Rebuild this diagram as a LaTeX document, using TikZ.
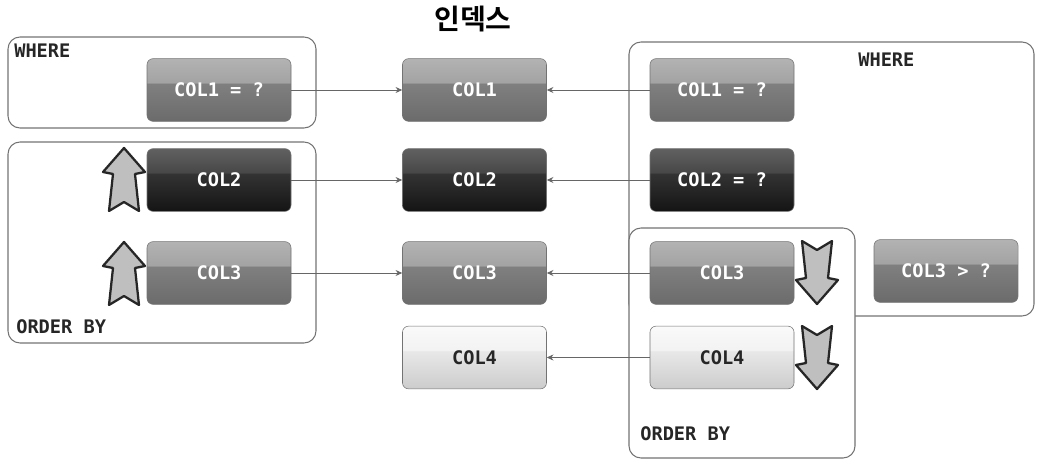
\documentclass[tikz,border=0pt]{standalone}
\usepackage{fontspec}
\setmonofont{DejaVu Sans Mono}
\newfontfamily\krfont{Noto Sans CJK KR}[BoldFont={* Bold}]
\usetikzlibrary{arrows.meta}

% glossy fills: node bottom = 25bp, node top = 75bp
\pgfdeclareverticalshading{glossmid}{100bp}{color(0bp)=(black!58); color(25bp)=(black!58); color(55bp)=(black!50); color(56bp)=(black!36); color(75bp)=(black!30); color(100bp)=(black!30)}
\pgfdeclareverticalshading{glossdark}{100bp}{color(0bp)=(black!92); color(25bp)=(black!92); color(55bp)=(black!80); color(56bp)=(black!72); color(75bp)=(black!62); color(100bp)=(black!62)}
\pgfdeclareverticalshading{glosslight}{100bp}{color(0bp)=(black!20); color(25bp)=(black!20); color(55bp)=(black!9); color(56bp)=(black!5); color(75bp)=(black!2); color(100bp)=(black!2)}

\tikzset{
  col/.style={draw=black!55, rounded corners=4.5pt, minimum width=108pt, minimum height=47pt,
    inner sep=0pt, font=\ttfamily\bfseries\fontsize{14}{16}\selectfont},
  colmid/.style={col, shading=glossmid, text=white},
  coldark/.style={col, shading=glossdark, text=white},
  collight/.style={col, shading=glosslight, text=black!85},
  grp/.style={draw=black!55, line width=0.8pt, rounded corners=9pt},
  lbl/.style={inner sep=0pt, anchor=base west, font=\ttfamily\bfseries\fontsize{14}{16}\selectfont, text=black!85},
  conn/.style={draw=black!60, line width=0.6pt, -{Stealth[length=5pt,width=4.5pt]}},
  fatarr/.pic={
    \draw[fill=black!25, draw=black!85, line width=1.7pt, line join=round]
      (0,-32) -- (21,-8) -- (11,-6) -- (15,31) -- (0,22) -- (-15,31) -- (-11,-6) -- (-21,-8) -- cycle;
  }
}

\begin{document}
\begin{tikzpicture}[x=0.75pt,y=0.75pt,yscale=-1,xscale=1]
\useasboundingbox (0,0) rectangle (1044,466);

%Shape: group frames
\draw[grp] (8,37) rectangle (316,128);
\draw[grp] (8,142) rectangle (316,343);
\draw[grp] (629,42) rectangle (1034,316);
\draw[grp, fill=white] (629,228) rectangle (855,458);

% Text Node
\node[font=\krfont\bfseries\fontsize{21}{24}\selectfont] (title) at (473,19) {인덱스};
\node[lbl] (lwhere) at (14,58) {WHERE};
\node[lbl] (lorder) at (16,333) {ORDER BY};
\node[lbl] (rwhere) at (858,67) {WHERE};
\node[lbl] (rorder) at (640,440) {ORDER BY};

% query columns, left
\node[colmid] (l1) at (219,90) {COL1 = ?};
\node[coldark] (l2) at (219,180) {COL2};
\node[colmid] (l3) at (219,273) {COL3};

% index columns
\node[colmid] (c1) at (474.5,90) {COL1};
\node[coldark] (c2) at (474.5,180) {COL2};
\node[colmid] (c3) at (474.5,273) {COL3};
\node[collight] (c4) at (474.5,357.5) {COL4};

% query columns, right
\node[colmid] (r1) at (722,90) {COL1 = ?};
\node[coldark] (r2) at (722,180) {COL2 = ?};
\node[colmid] (r3) at (722,273) {COL3};
\node[collight] (r4) at (722,357.5) {COL4};
\node[colmid] (r5) at (946,271) {COL3 > ?};

%Straight Lines
\draw[conn] (l1) -- (c1);
\draw[conn] (l2) -- (c2);
\draw[conn] (l3) -- (c3);
\draw[conn] (r1) -- (c1);
\draw[conn] (r2) -- (c2);
\draw[conn] (r3) -- (c3);
\draw[conn] (r4) -- (c4);

%Shape: sort direction (pic coordinates are not flipped)
\pic[rotate=180] at (124,180) {fatarr};
\pic[rotate=180] at (124,274) {fatarr};
\pic at (817,272) {fatarr};
\pic at (817,357) {fatarr};

\end{tikzpicture}
\end{document}
